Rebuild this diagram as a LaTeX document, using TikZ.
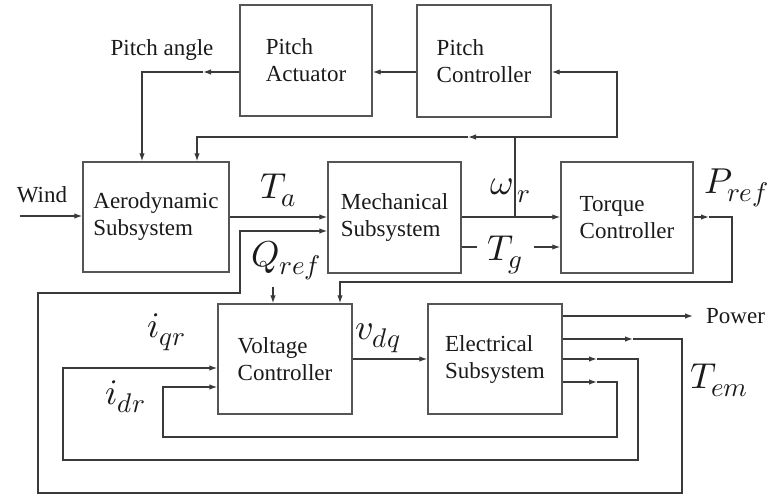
\documentclass[tikz,border=0pt]{standalone}
\usepackage{fontspec}
\usepackage{unicode-math}
\setmainfont{Liberation Serif}
\setmathfont{Latin Modern Math}
\DeclareMathSizes{36}{36}{27}{21}
\usetikzlibrary{arrows.meta}
\definecolor{boxc}{HTML}{555555}
\definecolor{linec}{HTML}{3A3A3A}
\definecolor{txtc}{HTML}{1A1A1A}
\begin{document}
\begin{tikzpicture}[x=1pt,y=-1pt,
  box/.style={draw=boxc, line width=1.4pt, align=left, font=\fontsize{23}{27}\selectfont, text=txtc, inner sep=0pt},
  wire/.style={draw=linec, line width=1.3pt},
  arr/.style={wire, -{Latex[length=8pt,width=5.5pt]}},
  lbl/.style={font=\fontsize{23}{27}\selectfont, text=txtc, inner sep=0pt},
  mlbl/.style={font=\fontsize{36}{40}\selectfont, text=txtc, inner sep=0pt, anchor=base west}]
\useasboundingbox (0,0) rectangle (774,495);
\fill[white] (0,0) rectangle (774,495);

% boxes
\node[box, minimum width=132pt, minimum height=111pt] (pa) at (306,60.5) {Pitch\\Actuator};
\node[box, minimum width=134pt, minimum height=112pt] (pc) at (484,61) {Pitch\\Controller};
\node[box, minimum width=146pt, minimum height=110pt] (aero) at (156,217) {Aerodynamic\\Subsystem};
\node[box, minimum width=133pt, minimum height=111pt] (mech) at (394.5,217.5) {Mechanical\\Subsystem};
\node[box, minimum width=132pt, minimum height=111pt] (torque) at (627,217.5) {Torque\\Controller};
\node[box, minimum width=134pt, minimum height=110pt] (volt) at (285,359) {Voltage\\Controller};
\node[box, minimum width=134pt, minimum height=110pt] (elec) at (495,359) {Electrical\\Subsystem};

% text labels
\node[lbl] (pangle) at (162,50) {Pitch angle};
\node[lbl] (wind) at (42,195) {Wind};
\node[lbl, anchor=west] (power) at (706,316) {Power};
\node[mlbl] (ta) at (260,198) {$T_a$};
\node[mlbl] (wr) at (490,194) {$\omega_{\,r}$};
\node[mlbl] (pref) at (704,193) {$P_{ref}$};
\node[mlbl] (tg) at (487,260) {$T_g$};
\node[mlbl] (qref) at (251,266) {$Q_{ref}$};
\node[mlbl] (vdq) at (355,339) {$v_{dq}$};
\node[mlbl] (iqr) at (147,337) {$i_{qr}$};
\node[mlbl] (idr) at (105,404) {$i_{dr}$};
\node[mlbl] (tem) at (690,388) {$T_{em}$};

% helper coordinates
\coordinate (y72) at (0,72);
\coordinate (y216) at (0,216);
\coordinate (y217) at (0,217);
\coordinate (y231) at (0,231);
\coordinate (y247) at (0,247);
\coordinate (y316) at (0,316);
\coordinate (y339) at (0,339);
\coordinate (y359) at (0,359);
\coordinate (y368) at (0,368);
\coordinate (y382) at (0,382);
\coordinate (y387) at (0,387);

% pitch controller -> actuator
\draw[arr] (pc.west |- y72) -- (pa.east |- y72);
% actuator -> aero (pitch angle)
\coordinate (pam) at (203,72);
\coordinate (pac) at (142,72);
\draw[arr] (pa.west |- y72) -- (pam);
\draw[arr] (pam) -- (pac) -- (aero.north -| pac);

% omega_r feedback
\coordinate (wj) at (515,217);
\coordinate (wt) at (515,137);
\coordinate (wrr) at (617,137);
\coordinate (wm) at (468,137);
\coordinate (wl) at (197,137);
\draw[arr] (wj) -- (wt) -- (wrr) -- (wrr |- y72) -- (pc.east |- y72);
\draw[arr] (wt) -- (wm);
\draw[arr] (wm) -- (wl) -- (aero.north -| wl);

% wind
\coordinate (windst) at (20,216);
\draw[arr] (windst) -- (aero.west |- y216);

% aero -> mech, mech -> torque
\draw[arr] (aero.east |- y217) -- (mech.west |- y217);
\draw[arr] (mech.east |- y217) -- (torque.west |- y217);

% T_g
\coordinate (tga) at (477,247);
\coordinate (tgb) at (534,247);
\draw[wire] (mech.east |- y247) -- (tga);
\draw[arr] (tgb) -- (torque.west |- y247);

% P_ref
\coordinate (pm) at (709,217);
\coordinate (p1) at (732,217);
\coordinate (p2) at (732,282);
\coordinate (p3) at (340,282);
\draw[arr] (torque.east |- y217) -- (pm);
\draw[arr] (pm) -- (p1) -- (p2) -- (p3) -- (volt.north -| p3);

% Q_ref
\coordinate (qa) at (273,287);
\draw[arr] (qa) -- (volt.north -| qa);

% v_dq
\draw[arr] (volt.east |- y359) -- (elec.west |- y359);

% power
\draw[arr] (elec.east |- y316) -- ([xshift=-13pt]power.west);

% T_em loop
\coordinate (t1) at (633,339);
\coordinate (t2) at (682,339);
\coordinate (t3) at (682,493);
\coordinate (t4) at (38,493);
\coordinate (t5) at (38,293);
\coordinate (t6) at (240,293);
\draw[arr] (elec.east |- y339) -- (t1);
\draw[arr] (t1) -- (t2) -- (t3) -- (t4) -- (t5) -- (t6) -- (t6 |- y231) -- (mech.west |- y231);

% i_qr loop
\coordinate (q1) at (597,359);
\coordinate (q2) at (638,359);
\coordinate (q3) at (638,460);
\coordinate (q4) at (63,460);
\draw[arr] (elec.east |- y359) -- (q1);
\draw[arr] (q1) -- (q2) -- (q3) -- (q4) -- (q4 |- y368) -- (volt.west |- y368);

% i_dr loop
\coordinate (d1) at (597,382);
\coordinate (d2) at (617,382);
\coordinate (d3) at (617,437);
\coordinate (d4) at (163,437);
\draw[arr] (elec.east |- y382) -- (d1);
\draw[arr] (d1) -- (d2) -- (d3) -- (d4) -- (d4 |- y387) -- (volt.west |- y387);
\end{tikzpicture}
\end{document}
